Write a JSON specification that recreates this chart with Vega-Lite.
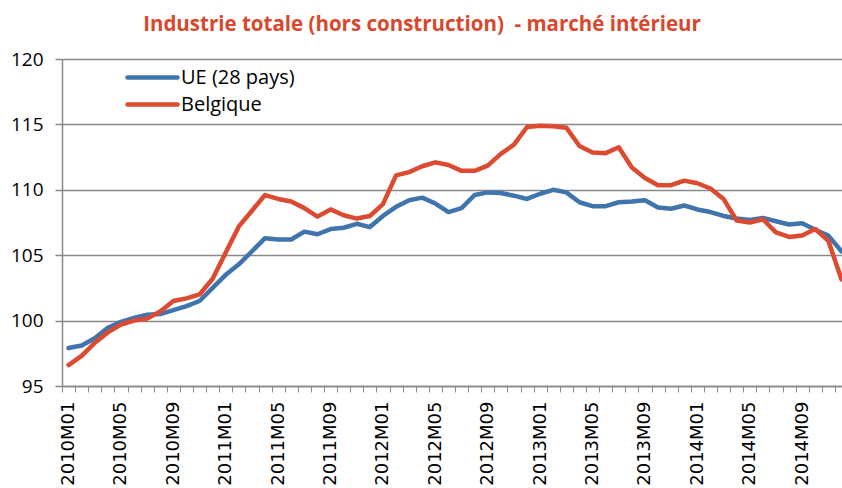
{
  "$schema": "https://vega.github.io/schema/vega-lite/v6.json",
  "width": 786,
  "height": 327,
  "autosize": "none",
  "padding": {"left": 62, "top": 59, "right": 0, "bottom": 102},
  "background": "white",
  "title": {
    "text": "Industrie totale (hors construction)\u00a0 - marché intérieur",
    "font": "Open Sans",
    "fontSize": 20.5,
    "fontWeight": "bold",
    "color": "#d9472c",
    "anchor": "middle",
    "dx": -33,
    "offset": -1,
    "baseline": "alphabetic",
    "frame": "group"
  },
  "config": {"view": {"stroke": null}},
  "data": {
    "values": [
      {"m": "2010M01", "s": "UE (28 pays)", "v": 97.9},
      {"m": "2010M02", "s": "UE (28 pays)", "v": 98.1},
      {"m": "2010M03", "s": "UE (28 pays)", "v": 98.65},
      {"m": "2010M04", "s": "UE (28 pays)", "v": 99.45},
      {"m": "2010M05", "s": "UE (28 pays)", "v": 99.9},
      {"m": "2010M06", "s": "UE (28 pays)", "v": 100.2},
      {"m": "2010M07", "s": "UE (28 pays)", "v": 100.45},
      {"m": "2010M08", "s": "UE (28 pays)", "v": 100.5},
      {"m": "2010M09", "s": "UE (28 pays)", "v": 100.8},
      {"m": "2010M10", "s": "UE (28 pays)", "v": 101.1},
      {"m": "2010M11", "s": "UE (28 pays)", "v": 101.5},
      {"m": "2010M12", "s": "UE (28 pays)", "v": 102.5},
      {"m": "2011M01", "s": "UE (28 pays)", "v": 103.5},
      {"m": "2011M02", "s": "UE (28 pays)", "v": 104.3},
      {"m": "2011M03", "s": "UE (28 pays)", "v": 105.3},
      {"m": "2011M04", "s": "UE (28 pays)", "v": 106.3},
      {"m": "2011M05", "s": "UE (28 pays)", "v": 106.2},
      {"m": "2011M06", "s": "UE (28 pays)", "v": 106.2},
      {"m": "2011M07", "s": "UE (28 pays)", "v": 106.8},
      {"m": "2011M08", "s": "UE (28 pays)", "v": 106.6},
      {"m": "2011M09", "s": "UE (28 pays)", "v": 107.0},
      {"m": "2011M10", "s": "UE (28 pays)", "v": 107.1},
      {"m": "2011M11", "s": "UE (28 pays)", "v": 107.4},
      {"m": "2011M12", "s": "UE (28 pays)", "v": 107.15},
      {"m": "2012M01", "s": "UE (28 pays)", "v": 108.0},
      {"m": "2012M02", "s": "UE (28 pays)", "v": 108.7},
      {"m": "2012M03", "s": "UE (28 pays)", "v": 109.2},
      {"m": "2012M04", "s": "UE (28 pays)", "v": 109.4},
      {"m": "2012M05", "s": "UE (28 pays)", "v": 108.95},
      {"m": "2012M06", "s": "UE (28 pays)", "v": 108.3},
      {"m": "2012M07", "s": "UE (28 pays)", "v": 108.6},
      {"m": "2012M08", "s": "UE (28 pays)", "v": 109.6},
      {"m": "2012M09", "s": "UE (28 pays)", "v": 109.8},
      {"m": "2012M10", "s": "UE (28 pays)", "v": 109.75},
      {"m": "2012M11", "s": "UE (28 pays)", "v": 109.55},
      {"m": "2012M12", "s": "UE (28 pays)", "v": 109.3},
      {"m": "2013M01", "s": "UE (28 pays)", "v": 109.7},
      {"m": "2013M02", "s": "UE (28 pays)", "v": 110.0},
      {"m": "2013M03", "s": "UE (28 pays)", "v": 109.8},
      {"m": "2013M04", "s": "UE (28 pays)", "v": 109.05},
      {"m": "2013M05", "s": "UE (28 pays)", "v": 108.75},
      {"m": "2013M06", "s": "UE (28 pays)", "v": 108.75},
      {"m": "2013M07", "s": "UE (28 pays)", "v": 109.05},
      {"m": "2013M08", "s": "UE (28 pays)", "v": 109.1},
      {"m": "2013M09", "s": "UE (28 pays)", "v": 109.2},
      {"m": "2013M10", "s": "UE (28 pays)", "v": 108.65},
      {"m": "2013M11", "s": "UE (28 pays)", "v": 108.55},
      {"m": "2013M12", "s": "UE (28 pays)", "v": 108.8},
      {"m": "2014M01", "s": "UE (28 pays)", "v": 108.5},
      {"m": "2014M02", "s": "UE (28 pays)", "v": 108.3},
      {"m": "2014M03", "s": "UE (28 pays)", "v": 108.0},
      {"m": "2014M04", "s": "UE (28 pays)", "v": 107.8},
      {"m": "2014M05", "s": "UE (28 pays)", "v": 107.7},
      {"m": "2014M06", "s": "UE (28 pays)", "v": 107.85},
      {"m": "2014M07", "s": "UE (28 pays)", "v": 107.6},
      {"m": "2014M08", "s": "UE (28 pays)", "v": 107.35},
      {"m": "2014M09", "s": "UE (28 pays)", "v": 107.45},
      {"m": "2014M10", "s": "UE (28 pays)", "v": 106.95},
      {"m": "2014M11", "s": "UE (28 pays)", "v": 106.5},
      {"m": "2014M12", "s": "UE (28 pays)", "v": 105.3},
      {"m": "2010M01", "s": "Belgique", "v": 96.6},
      {"m": "2010M02", "s": "Belgique", "v": 97.3},
      {"m": "2010M03", "s": "Belgique", "v": 98.3},
      {"m": "2010M04", "s": "Belgique", "v": 99.1},
      {"m": "2010M05", "s": "Belgique", "v": 99.7},
      {"m": "2010M06", "s": "Belgique", "v": 100.0},
      {"m": "2010M07", "s": "Belgique", "v": 100.15},
      {"m": "2010M08", "s": "Belgique", "v": 100.7},
      {"m": "2010M09", "s": "Belgique", "v": 101.5},
      {"m": "2010M10", "s": "Belgique", "v": 101.7},
      {"m": "2010M11", "s": "Belgique", "v": 102.0},
      {"m": "2010M12", "s": "Belgique", "v": 103.2},
      {"m": "2011M01", "s": "Belgique", "v": 105.2},
      {"m": "2011M02", "s": "Belgique", "v": 107.2},
      {"m": "2011M03", "s": "Belgique", "v": 108.4},
      {"m": "2011M04", "s": "Belgique", "v": 109.6},
      {"m": "2011M05", "s": "Belgique", "v": 109.3},
      {"m": "2011M06", "s": "Belgique", "v": 109.1},
      {"m": "2011M07", "s": "Belgique", "v": 108.6},
      {"m": "2011M08", "s": "Belgique", "v": 107.95},
      {"m": "2011M09", "s": "Belgique", "v": 108.5},
      {"m": "2011M10", "s": "Belgique", "v": 108.05},
      {"m": "2011M11", "s": "Belgique", "v": 107.8},
      {"m": "2011M12", "s": "Belgique", "v": 108.0},
      {"m": "2012M01", "s": "Belgique", "v": 108.9},
      {"m": "2012M02", "s": "Belgique", "v": 111.1},
      {"m": "2012M03", "s": "Belgique", "v": 111.35},
      {"m": "2012M04", "s": "Belgique", "v": 111.8},
      {"m": "2012M05", "s": "Belgique", "v": 112.1},
      {"m": "2012M06", "s": "Belgique", "v": 111.9},
      {"m": "2012M07", "s": "Belgique", "v": 111.45},
      {"m": "2012M08", "s": "Belgique", "v": 111.45},
      {"m": "2012M09", "s": "Belgique", "v": 111.85},
      {"m": "2012M10", "s": "Belgique", "v": 112.75},
      {"m": "2012M11", "s": "Belgique", "v": 113.45},
      {"m": "2012M12", "s": "Belgique", "v": 114.8},
      {"m": "2013M01", "s": "Belgique", "v": 114.9},
      {"m": "2013M02", "s": "Belgique", "v": 114.85},
      {"m": "2013M03", "s": "Belgique", "v": 114.75},
      {"m": "2013M04", "s": "Belgique", "v": 113.35},
      {"m": "2013M05", "s": "Belgique", "v": 112.85},
      {"m": "2013M06", "s": "Belgique", "v": 112.8},
      {"m": "2013M07", "s": "Belgique", "v": 113.25},
      {"m": "2013M08", "s": "Belgique", "v": 111.7},
      {"m": "2013M09", "s": "Belgique", "v": 110.9},
      {"m": "2013M10", "s": "Belgique", "v": 110.35},
      {"m": "2013M11", "s": "Belgique", "v": 110.35},
      {"m": "2013M12", "s": "Belgique", "v": 110.7},
      {"m": "2014M01", "s": "Belgique", "v": 110.5},
      {"m": "2014M02", "s": "Belgique", "v": 110.1},
      {"m": "2014M03", "s": "Belgique", "v": 109.3},
      {"m": "2014M04", "s": "Belgique", "v": 107.65},
      {"m": "2014M05", "s": "Belgique", "v": 107.5},
      {"m": "2014M06", "s": "Belgique", "v": 107.75},
      {"m": "2014M07", "s": "Belgique", "v": 106.75},
      {"m": "2014M08", "s": "Belgique", "v": 106.4},
      {"m": "2014M09", "s": "Belgique", "v": 106.5},
      {"m": "2014M10", "s": "Belgique", "v": 107.0},
      {"m": "2014M11", "s": "Belgique", "v": 106.1},
      {"m": "2014M12", "s": "Belgique", "v": 103.15}
    ]
  },
  "mark": {"type": "line", "strokeWidth": 4.5, "strokeCap": "round", "strokeJoin": "round"},
  "encoding": {
    "x": {
      "field": "m",
      "type": "ordinal",
      "sort": null,
      "scale": {"type": "band", "paddingInner": 0, "paddingOuter": 0},
      "axis": {
        "title": null,
        "labelAngle": -90,
        "labelExpr": "(parseInt(substring(datum.value,5,7))-1)%4==0 ? datum.value : ''",
        "tickBand": "extent",
        "labelFont": "DejaVu Sans",
        "labelFontSize": 18,
        "labelColor": "black",
        "tickSize": 6,
        "tickWidth": 1,
        "tickColor": "#898989",
        "domainColor": "#898989",
        "domainWidth": 1.5,
        "grid": false,
        "labelPadding": 9,
        "labelOverlap": false,
        "labelBound": false
      }
    },
    "y": {
      "field": "v",
      "type": "quantitative",
      "scale": {"domain": [95, 120], "zero": false, "nice": false},
      "axis": {
        "title": null,
        "values": [95, 100, 105, 110, 115, 120],
        "labelFont": "Open Sans",
        "labelFontSize": 19,
        "labelColor": "black",
        "tickColor": "#898989",
        "tickSize": 7,
        "tickWidth": 1.5,
        "domainColor": "#898989",
        "domainWidth": 1.5,
        "gridColor": "#898989",
        "gridWidth": 1.5,
        "labelPadding": 12
      }
    },
    "color": {
      "field": "s",
      "type": "nominal",
      "sort": ["UE (28 pays)", "Belgique"],
      "scale": {"domain": ["UE (28 pays)", "Belgique"], "range": ["#3f74ad", "#dc4a30"]},
      "legend": {
        "title": null,
        "orient": "none",
        "legendX": 63,
        "legendY": 6,
        "symbolType": "M-1,0H4",
        "symbolSize": 400,
        "symbolStrokeWidth": 4.5,
        "labelOffset": 31,
        "labelFont": "Open Sans",
        "labelFontSize": 20,
        "labelColor": "black",
        "rowPadding": 4,
        "padding": 0,
        "encode": {"symbols": {"update": {"strokeCap": {"value": "round"}}}}
      }
    }
  }
}
